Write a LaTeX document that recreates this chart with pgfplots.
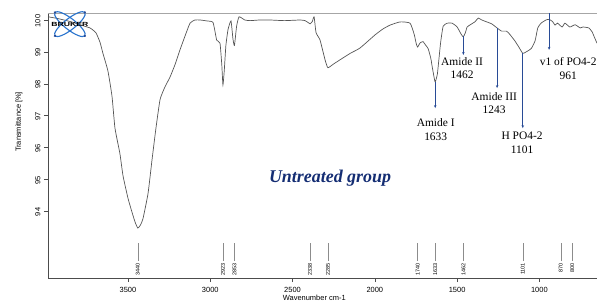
\documentclass[border=0pt]{standalone}
\usepackage{pgfplots}
\pgfplotsset{compat=1.18}
\usepackage{fontspec}
\setmainfont{Liberation Sans}
\newfontfamily\serif{Liberation Serif}
\usetikzlibrary{arrows.meta,calc}
\definecolor{curve}{RGB}{85,85,85}
\definecolor{arr}{RGB}{40,75,150}
\definecolor{titleblue}{RGB}{20,45,115}
\definecolor{logob}{RGB}{40,115,205}
\newcommand\pk[2]{%
  \draw[black!45, line width=0.5bp] (axis cs:#1,92.42) -- (axis cs:#1,92.99);
  \node[rotate=90, anchor=east, inner sep=0.5bp, font=\fontsize{5.5}{6}\selectfont] at (axis cs:#1,92.38) {#2};}
\pgfplotstableread{
w T
3986 100.10
3930 100.05
3850 99.95
3792 99.85
3731 99.75
3695 99.60
3670 99.30
3652 98.95
3622 98.40
3597 97.60
3579 96.60
3549 95.80
3530 95.10
3500 94.40
3475 93.95
3455 93.62
3440 93.46
3425 93.55
3409 93.75
3378 94.55
3354 95.60
3330 96.60
3305 97.50
3275 97.90
3245 98.20
3214 98.60
3184 99.06
3153 99.50
3123 99.90
3093 100.00
3062 100.00
3020 99.97
2983 99.92
2961 99.37
2941 99.27
2930 98.60
2923 97.96
2915 98.40
2905 99.20
2892 99.70
2874 99.97
2862 99.40
2853 99.20
2840 99.80
2825 100.10
2790 100.00
2758 99.98
2700 100.00
2637 100.00
2550 99.98
2454 100.00
2424 99.98
2405 99.92
2394 99.88
2380 99.95
2369 100.10
2357 99.60
2333 99.37
2302 98.74
2285 98.50
2250 98.62
2211 98.75
2150 98.95
2090 99.12
1999 99.53
1950 99.72
1907 99.84
1846 99.94
1786 99.90
1761 99.55
1748 99.25
1740 99.15
1725 99.28
1707 99.32
1690 99.20
1676 99.10
1660 98.80
1652 98.55
1640 98.20
1633 98.05
1620 98.30
1609 98.85
1600 99.30
1585 99.80
1560 99.90
1530 99.90
1500 99.78
1475 99.55
1462 99.47
1450 99.60
1439 99.78
1420 99.85
1390 99.95
1372 100.06
1350 100.00
1320 99.94
1290 99.88
1257 99.75
1230 99.65
1200 99.65
1180 99.55
1150 99.35
1125 99.15
1101 98.95
1080 99.00
1050 99.10
1026 99.35
1010 99.75
990 99.90
960 100.00
941 100.02
920 99.95
905 99.84
890 99.90
862 99.78
845 99.90
815 99.78
783 99.85
752 99.75
735 99.78
700 99.75
680 99.63
665 99.45
650 99.27
}\spectrum
\begin{document}
\begin{tikzpicture}
\begin{axis}[
  scale only axis,
  width=549bp, height=265bp,
  x dir=reverse,
  xmin=650, xmax=3986,
  ymin=91.89, ymax=100.22,
  axis x line*=bottom, axis y line*=left,
  axis line style={draw=black!70, -},
  xtick={1000,1500,2000,2500,3000,3500},
  ytick={94,95,96,97,98,99,100},
  tick align=outside,
  major tick length=4bp,
  tick style={black!70},
  xticklabel style={font=\fontsize{7.5}{9}\selectfont, yshift=-2bp},
  yticklabel style={font=\fontsize{7.5}{9}\selectfont, rotate=90, anchor=south, xshift=-1bp},
  /pgf/number format/assume math mode=true,
  /pgf/number format/1000 sep={},
  clip=false,
]
\addplot[curve, line width=0.7bp, smooth, tension=0.3] table[x=w,y=T] {\spectrum};
% top frame line
\draw[black!35, line width=0.8bp] (rel axis cs:0,1) -- (rel axis cs:1,1);
% axis labels
\node[rotate=90, font=\fontsize{7.5}{9}\selectfont] at ([xshift=-29bp]rel axis cs:0,0.589) {Transmittance [\%]};
\node[font=\fontsize{7.5}{9}\selectfont] at ([yshift=-19.5bp]rel axis cs:0.485,0) {Wavenumber cm-1};
% peak markers at the bottom
\pk{3440}{3440}
\pk{2923}{2923}
\pk{2853}{2853}
\pk{2394}{2338}
\pk{2285}{2285}
\pk{1740}{1740}
\pk{1633}{1633}
\pk{1462}{1462}
\pk{1101}{1101}
\pk{870}{870}
\pk{800}{800}
% annotation arrows
\draw[arr, line width=0.6bp, -{Stealth[length=3bp,width=2.5bp]}] (axis cs:1633,98.05) -- (axis cs:1633,97.23);
\draw[arr, line width=0.6bp, -{Stealth[length=3bp,width=2.5bp]}] (axis cs:1462,99.50) -- (axis cs:1462,98.90);
\draw[arr, line width=0.6bp, -{Stealth[length=3bp,width=2.5bp]}] (axis cs:1257,99.75) -- (axis cs:1257,97.86);
\draw[arr, line width=0.6bp, -{Stealth[length=3bp,width=2.5bp]}] (axis cs:1101,98.95) -- (axis cs:1101,96.60);
\draw[arr, line width=0.6bp, -{Stealth[length=3bp,width=2.5bp]}] (axis cs:941,100.22) -- (axis cs:941,99.06);
% annotation texts
\begin{scope}[every node/.style={font=\serif\fontsize{11.5}{14}\selectfont, align=center, anchor=north, inner sep=0pt}]
\node at (axis cs:1630,96.92) {Amide I\\1633};
\node at (axis cs:1470,98.84) {Amide II\\1462};
\node at (axis cs:1275,97.74) {Amide III\\1243};
\node at (axis cs:1105,96.48) {H PO4-2\\1101};
\node at (axis cs:825,98.84) {v1 of PO4-2\\961};
\end{scope}
\node[font=\serif\bfseries\itshape\fontsize{18}{20}\selectfont, text=titleblue] at (axis cs:2272,95.03) {Untreated group};
% logo
\node[inner sep=0pt, minimum size=0pt] (lg) at (axis cs:3853,99.87) {};
\draw[logob, line width=1.1bp, rotate around={38:(lg.center)}] (lg.center) ellipse (19bp and 5.5bp);
\draw[logob, line width=1.1bp, rotate around={-38:(lg.center)}] (lg.center) ellipse (19bp and 5.5bp);
\fill[arr, rotate around={38:(lg.center)}] ([xshift=-19bp]lg.center) circle (1.3bp) ([xshift=19bp]lg.center) circle (1.3bp);
\fill[arr, rotate around={-38:(lg.center)}] ([xshift=-19bp]lg.center) circle (1.3bp) ([xshift=19bp]lg.center) circle (1.3bp);
\node[font=\bfseries\fontsize{6}{7}\selectfont, xscale=1.45, inner sep=0pt] at (lg.center) {BRUKER};
\coordinate (bbsw) at (rel axis cs:0,0);
\coordinate (bbne) at (rel axis cs:1,1);
\end{axis}
\pgfresetboundingbox
\path[use as bounding box] ($(bbsw)+(-48bp,-27bp)$) rectangle ($(bbne)+(0bp,13bp)$);
\end{tikzpicture}
\end{document}
